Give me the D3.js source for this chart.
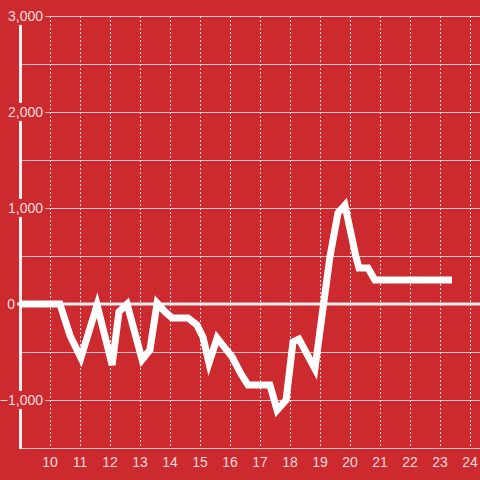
<!DOCTYPE html>
<html>
<head>
<meta charset="utf-8">
<script src="https://cdn.jsdelivr.net/npm/d3@7"></script>
<style>
  html, body { margin: 0; padding: 0; background: #cc2a2f; }
  svg { display: block; }
  text { font-family: "Liberation Sans", Arial, sans-serif; font-size: 14px; fill: #f6dcdc; }
</style>
</head>
<body>
<svg id="chart"></svg>
<script>
// hour of day (decimal) and value
const hours = [9.0, 10.33, 10.67, 11.03, 11.57, 12.07, 12.3, 12.57, 13.07, 13.33, 13.57, 13.83,
  14.07, 14.6, 14.9, 15.1, 15.3, 15.57, 16.07, 16.37, 16.6, 17.33, 17.57, 17.87, 18.1, 18.3,
  18.83, 19.33, 19.6, 19.83, 20.2, 20.3, 20.6, 20.83, 23.4];
const values = [0, 0, -330, -560, -10, -635, -80, 0, -580, -480, 10, -80,
  -145, -145, -220, -345, -615, -355, -550, -730, -845, -845, -1105, -1000, -395, -365,
  -675, 490, 950, 1030, 490, 375, 375, 250, 250];
const xTicks = [10, 11, 12, 13, 14, 15, 16, 17, 18, 19, 20, 21, 22, 23, 24];
const yLabelTicks = [3000, 2000, 1000, 0, -1000];
const yGridTicks = [3000, 2500, 2000, 1500, 1000, 500, -500, -1000];

const W = 480, H = 480;
const bg = '#cc2a2f';

const svg = d3.select('#chart').attr('width', W).attr('height', H);

const x = d3.scaleLinear().domain([9, 24]).range([20, 470]);
const y = d3.scaleLinear().domain([-1500, 3000]).range([448, 16]);

// horizontal grid
svg.append('g')
  .selectAll('line')
  .data(yGridTicks)
  .enter().append('line')
  .attr('x1', 21).attr('x2', W)
  .attr('y1', d => Math.round(y(d)) + 0.5)
  .attr('y2', d => Math.round(y(d)) + 0.5)
  .attr('stroke', '#d6c4c4')
  .attr('stroke-width', 1);

// vertical dotted grid
svg.append('g')
  .selectAll('line')
  .data(xTicks)
  .enter().append('line')
  .attr('x1', d => Math.round(x(d)) + 0.5)
  .attr('x2', d => Math.round(x(d)) + 0.5)
  .attr('y1', y(3000))
  .attr('y2', y(-1500))
  .attr('stroke', '#eedada')
  .attr('stroke-width', 1)
  .attr('stroke-dasharray', '2,2');

// bottom axis line
svg.append('line')
  .attr('x1', 21).attr('x2', W)
  .attr('y1', y(-1500) + 0.5).attr('y2', y(-1500) + 0.5)
  .attr('stroke', '#d6c4c4');

// y axis line
svg.append('line')
  .attr('x1', 20.5).attr('x2', 20.5)
  .attr('y1', y(3000)).attr('y2', y(-1500) + 1)
  .attr('stroke', '#f4eeee')
  .attr('stroke-width', 3);

// zero line
svg.append('line')
  .attr('x1', 17).attr('x2', W)
  .attr('y1', y(0)).attr('y2', y(0))
  .attr('stroke', '#f4eeee')
  .attr('stroke-width', 3);

// data line
const line = d3.line()
  .x((d, i) => x(hours[i]))
  .y(d => y(d));

svg.append('path')
  .datum(values)
  .attr('d', line)
  .attr('fill', 'none')
  .attr('stroke', '#ffffff')
  .attr('stroke-width', 7)
  .attr('stroke-linejoin', 'miter');

// y labels with background
const yl = svg.append('g');
yLabelTicks.forEach(v => {
  const t = yl.append('text')
    .attr('x', v === 0 ? 15 : 43)
    .attr('y', y(v))
    .attr('dy', '0.35em')
    .attr('text-anchor', 'end')
    .text(d3.format(',')(v));
  const b = t.node().getBBox();
  yl.insert('rect', 'text')
    .attr('x', b.x - 2).attr('y', b.y - 1)
    .attr('width', b.width + 4).attr('height', b.height + 2)
    .attr('fill', bg);
});

// x labels
svg.append('g')
  .selectAll('text')
  .data(xTicks)
  .enter().append('text')
  .attr('x', d => x(d))
  .attr('y', 462)
  .attr('dy', '0.35em')
  .attr('text-anchor', 'middle')
  .text(d => d);
</script>
</body>
</html>
